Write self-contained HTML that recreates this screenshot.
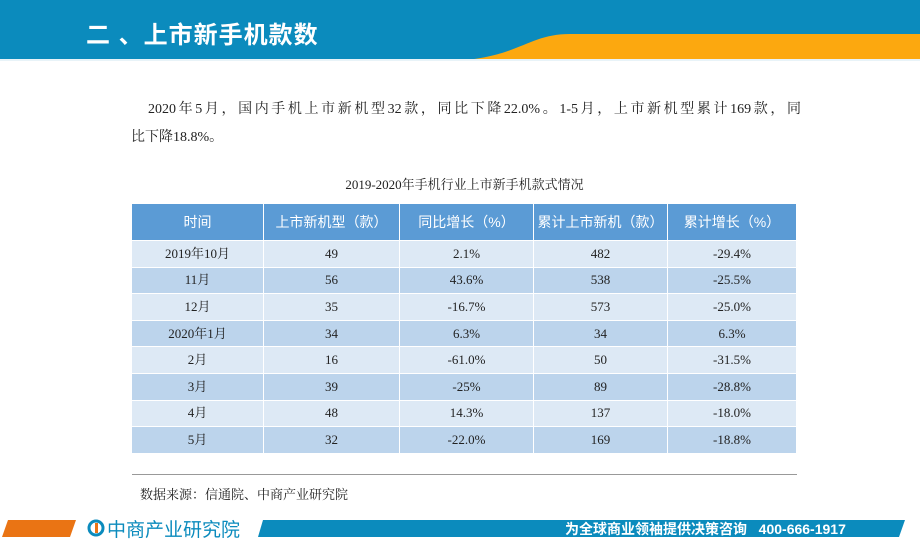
<!DOCTYPE html>
<html><head><meta charset="utf-8"><style>
body{margin:0;width:920px;height:547px;position:relative;overflow:hidden;background:#fff;font-family:"Liberation Serif","Noto Serif CJK SC",serif;}
.abs{position:absolute}
table{border-collapse:collapse;position:absolute;left:132px;top:204px;width:665px;font-size:13px;color:#222}
td,th{text-align:center;border-right:1px solid #fff;padding:0}
th{background:#5b9bd5;color:#fff;font-weight:normal;height:36px;font-family:"Liberation Sans","Noto Sans CJK SC",sans-serif;font-size:14px}
td{height:25.6px;border-top:1px solid #fff;line-height:14px}
tr.a td{background:#dde9f5}
tr.b td{background:#bcd4ec}
</style></head><body>
<svg class="abs" style="left:0;top:0" width="920" height="62">
<rect width="920" height="60" fill="#0b8bbd"/>
<path d="M465 60 C520 55 530 34 570 34 L920 34 L920 60 Z" fill="#fca80f"/>
<rect y="59" width="920" height="2" fill="#e8f3f8"/>
</svg>
<div class="abs" style="left:86px;top:15px;color:#fff;font-size:24px;letter-spacing:1px;font-weight:bold;font-family:'Liberation Sans','Noto Sans CJK SC',sans-serif">二 、上市新手机款数</div>
<div class="abs" style="left:131px;top:96px;width:670px;font-size:14px;line-height:28px;color:#222">
<div style="margin-left:17px;text-align:justify;text-align-last:justify">2020年5月，国内手机上市新机型32款，同比下降22.0%。1-5月，上市新机型累计169款，同</div>
<div>比下降18.8%。</div></div>
<div class="abs" style="left:132px;width:665px;top:174px;text-align:center;font-size:13px;color:#222">2019-2020年手机行业上市新手机款式情况</div>
<table>
<tr><th style="width:131px">时间</th><th style="width:135px">上市新机型（款）</th><th style="width:133px">同比增长（%）</th><th style="width:133px">累计上市新机（款）</th><th>累计增长（%）</th></tr>
<tr class="a"><td>2019年10月</td><td>49</td><td>2.1%</td><td>482</td><td>-29.4%</td></tr>
<tr class="b"><td>11月</td><td>56</td><td>43.6%</td><td>538</td><td>-25.5%</td></tr>
<tr class="a"><td>12月</td><td>35</td><td>-16.7%</td><td>573</td><td>-25.0%</td></tr>
<tr class="b"><td>2020年1月</td><td>34</td><td>6.3%</td><td>34</td><td>6.3%</td></tr>
<tr class="a"><td>2月</td><td>16</td><td>-61.0%</td><td>50</td><td>-31.5%</td></tr>
<tr class="b"><td>3月</td><td>39</td><td>-25%</td><td>89</td><td>-28.8%</td></tr>
<tr class="a"><td>4月</td><td>48</td><td>14.3%</td><td>137</td><td>-18.0%</td></tr>
<tr class="b"><td>5月</td><td>32</td><td>-22.0%</td><td>169</td><td>-18.8%</td></tr>
</table>
<div class="abs" style="left:132px;top:474px;width:665px;height:1px;background:#999"></div>
<div class="abs" style="left:140px;top:484px;font-size:13px;color:#222">数据来源：信通院、中商产业研究院</div>
<svg class="abs" style="left:0;top:518px" width="920" height="22">
<polygon points="8,2 76,2 70,19 2,19" fill="#ea7414"/>
<polygon points="263,2 905,2 899,19 258,19" fill="#0b8bbd"/>
<circle cx="96" cy="10" r="7" fill="none" stroke="#0b8bbd" stroke-width="3"/>
<rect x="95" y="5" width="3" height="10" fill="#ea7414"/>
</svg>
<div class="abs" style="left:107px;top:515px;font-size:19px;color:#0b8bbd;font-family:'Liberation Sans','Noto Sans CJK SC',sans-serif">中商产业研究院</div>
<div class="abs" style="left:565px;top:519px;font-size:14px;font-weight:bold;color:#fff;font-family:'Liberation Sans','Noto Sans CJK SC',sans-serif">为全球商业领袖提供决策咨询 &nbsp;&nbsp;400-666-1917</div>
</body></html>
